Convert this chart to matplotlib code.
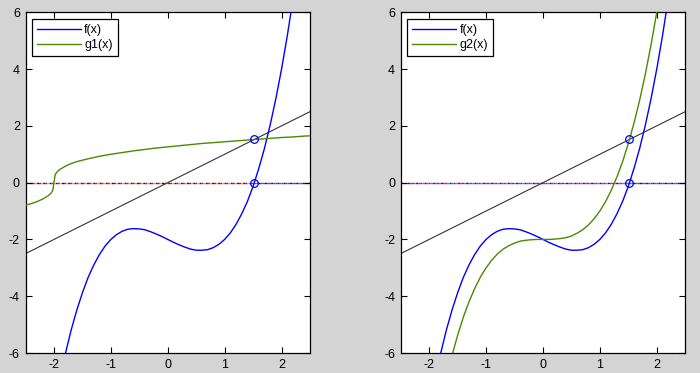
import matplotlib
matplotlib.use("Agg")
import matplotlib.pyplot as plt

plt.rcParams['font.family'] = ['Liberation Sans', 'DejaVu Sans']
plt.rcParams['axes.unicode_minus'] = False

# ---- data ----
x_f = [-1.9, -1.8, -1.7, -1.6, -1.5, -1.4, -1.3, -1.2, -1.1, -1.0, -0.9, -0.8, -0.7,
       -0.6, -0.5, -0.4, -0.3, -0.2, -0.1, 0.0, 0.1, 0.2, 0.3, 0.4, 0.5, 0.6, 0.7, 0.8,
       0.9, 1.0, 1.1, 1.2, 1.3, 1.4, 1.5, 1.6, 1.7, 1.8, 1.9, 2.0, 2.1, 2.2]
y_f = [-6.96, -6.03, -5.21, -4.50, -3.88, -3.34, -2.90, -2.53, -2.23, -2.00, -1.83, -1.71,
       -1.64, -1.62, -1.63, -1.66, -1.73, -1.81, -1.90, -2.00, -2.10, -2.19, -2.27, -2.34,
       -2.38, -2.38, -2.36, -2.29, -2.17, -2.00, -1.77, -1.47, -1.10, -0.66, -0.13, 0.50,
       1.21, 2.03, 2.96, 4.00, 5.16, 6.45]

x_g1 = [-2.5, -2.4, -2.3, -2.2, -2.1, -2.05, -2.02, -2.0, -1.98, -1.95, -1.9, -1.8, -1.7,
        -1.6, -1.5, -1.4, -1.2, -1.0, -0.8, -0.6, -0.4, -0.2, 0.0, 0.2, 0.4, 0.6, 0.8,
        1.0, 1.2, 1.4, 1.6, 1.8, 2.0, 2.2, 2.4, 2.5]
y_g1 = [-0.79, -0.74, -0.67, -0.58, -0.46, -0.37, -0.27, 0.0, 0.27, 0.37, 0.46, 0.58, 0.67,
        0.74, 0.79, 0.84, 0.93, 1.00, 1.06, 1.12, 1.17, 1.22, 1.26, 1.30, 1.34, 1.38, 1.41,
        1.44, 1.47, 1.50, 1.53, 1.56, 1.59, 1.61, 1.64, 1.65]

x_g2 = [-1.7, -1.6, -1.5, -1.4, -1.3, -1.2, -1.1, -1.0, -0.9, -0.8, -0.7, -0.6, -0.5, -0.4,
        -0.3, -0.2, -0.1, 0.0, 0.1, 0.2, 0.3, 0.4, 0.5, 0.6, 0.7, 0.8, 0.9, 1.0, 1.1, 1.2,
        1.3, 1.4, 1.5, 1.6, 1.7, 1.8, 1.9, 2.0, 2.1]
y_g2 = [-6.91, -6.10, -5.38, -4.74, -4.20, -3.73, -3.33, -3.00, -2.73, -2.51, -2.34, -2.22,
        -2.13, -2.06, -2.03, -2.01, -2.00, -2.00, -2.00, -1.99, -1.97, -1.94, -1.88, -1.78,
        -1.66, -1.49, -1.27, -1.00, -0.67, -0.27, 0.20, 0.74, 1.38, 2.10, 2.91, 3.83, 4.86,
        6.00, 7.26]

x_line = [-2.5, 2.5]
y_line = [-2.5, 2.5]

root = 1.52
x_lim = [-2.5, 2.5]
y_lim = [-6, 6]
x_ticks = [-2, -1, 0, 1, 2]
y_ticks = [-6, -4, -2, 0, 2, 4, 6]
legend_labels = [["f(x)", "g1(x)"], ["f(x)", "g2(x)"]]
g_x = [x_g1, x_g2]
g_y = [y_g1, y_g2]

BG = '#d4d4d4'
BLUE = '#0000ff'
GREEN = '#4a8a00'
GRAY = '#333333'


def multicolor_dotted(ax, xs, cols):
    n = len(cols)
    for k, c in enumerate(cols):
        ax.plot(xs, [0, 0], color=c, lw=1.0,
                linestyle=(1.5 * k, (1.5, 1.5 * (n - 1))),
                dash_capstyle='butt', zorder=1)


fig = plt.figure(figsize=(7.0, 3.73), dpi=100, facecolor=BG)
W, H = 700.0, 373.0
lefts = [25.5, 400.7]
for i in range(2):
    l = lefts[i]
    ax = fig.add_axes([l / W, (H - 353) / H, 284.5 / W, (353 - 12.3) / H])
    ax.set_facecolor('white')
    zl_left_cols = ['#ff0000', '#0000ff', '#ffaa00'] if i == 0 else ['#ff00ff', '#0000ff', '#00cc66', '#ff0000']
    zl_right_cols = ['#00aa00', '#0000ff', '#cc00cc']
    multicolor_dotted(ax, [x_lim[0], root], zl_left_cols)
    multicolor_dotted(ax, [root, x_lim[1]], zl_right_cols)
    ax.plot(x_line, y_line, color=GRAY, lw=0.8, zorder=2)
    h1, = ax.plot(x_f, y_f, color=BLUE, lw=1.0, zorder=3)
    h2, = ax.plot(g_x[i], g_y[i], color=GREEN, lw=1.0, zorder=3)
    ax.plot([root, root], [root, 0], linestyle='none', marker='o', ms=5.5,
            mfc='none', mec=BLUE, mew=0.9, zorder=4)
    ax.set_xlim(x_lim)
    ax.set_ylim(y_lim)
    ax.set_xticks(x_ticks)
    ax.set_yticks(y_ticks)
    ax.tick_params(direction='in', length=4, width=0.8, top=True, right=True,
                   labelsize=9, pad=4, colors='black')
    for s in ax.spines.values():
        s.set_linewidth(0.9)
        s.set_color('black')
    leg = ax.legend([h1, h2], legend_labels[i], loc='upper left',
                    bbox_to_anchor=(0.022, 0.98), fontsize=9, fancybox=False,
                    framealpha=1, edgecolor='black', handlelength=3.5,
                    handletextpad=0.3, borderpad=0.4, labelspacing=0.25,
                    borderaxespad=0.0)
    leg.get_frame().set_linewidth(0.9)

fig.savefig('out.png', dpi=100, facecolor=BG)
